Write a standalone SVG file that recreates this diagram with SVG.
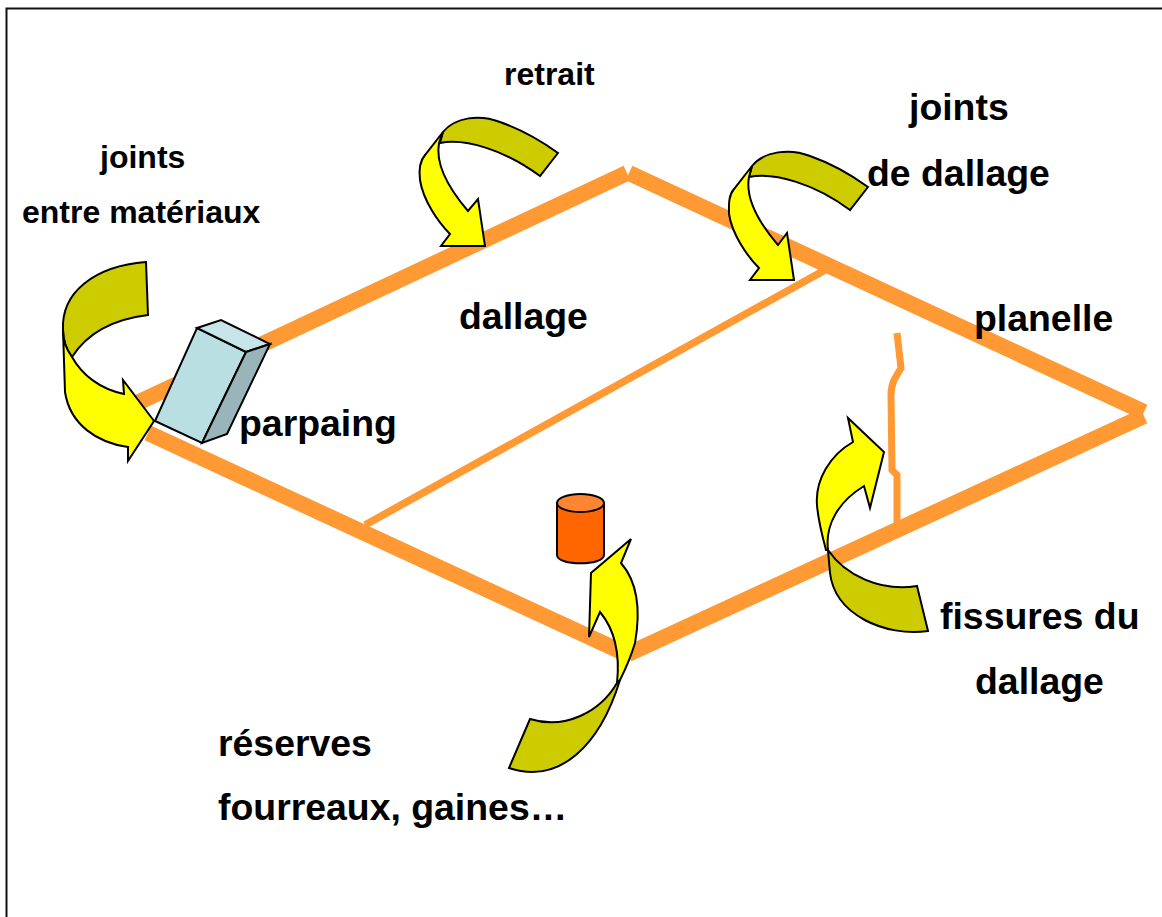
<svg xmlns="http://www.w3.org/2000/svg" width="1162" height="917" viewBox="0 0 1162 917">
<style>
text{font-family:"Liberation Sans",Arial,sans-serif;font-weight:bold;fill:#000}
.s{font-size:32px}.l{font-size:37.4px}
.o{fill:none;stroke:#FF9933}
.b{stroke:#000;stroke-width:2;stroke-linejoin:miter}
.y{fill:#FFFF00}.k{fill:#CCCC00}
</style>
<rect width="1162" height="917" fill="#fff"/>
<path d="M6.500 917V8.500H1162" fill="none" stroke="#111" stroke-width="2"/>
<g id="connectors">
<g id="dalle-outline" class="o" stroke-width="16">
<path d="M135 404L627 173"/><path d="M629 173L1144 412"/><path d="M1144 416L628 654"/><path d="M622 652L148 433"/>
</g>
<path id="joint-line" class="o" stroke-width="7.500" d="M365 525L825 270"/>
<path id="crack" class="o" stroke-width="7" fill="none" d="M897 333L901 368L894 380Q891 387 891 395L892 470L897 475L897 525"/>
</g>
<g id="parpaing-block" class="b">
<path fill="#B9DFE3" d="M197 328L246 352L202 443L155 421Z"/>
<path fill="#C7E5E9" d="M197 328L221 320L270 344L246 352Z"/>
<path fill="#99B5B9" d="M246 352L270 344L227 434L202 443Z"/>
</g>
<g id="reserve-cylinder" class="b">
<path fill="#FF6600" d="M557 503V555C557 566 604 566 604 555V503Z"/>
<ellipse cx="580.500" cy="503" rx="23.500" ry="9" fill="#FF8533"/>
</g>
<g id="arrow-joints-materiaux" class="b">
<path class="k" d="M146 262L148 315C115 319 88 332 72 357C66 349 63 340 63 330C61 292 95 266 146 262Z"/>
<path class="y" d="M63 330L65 392C70 425 98 443 128 447L128 461L154 421L123 380L124 394C100 389 82 375 72 357C66 349 63 340 63 330Z"/>
</g>
<g id="arrow-retrait" class="b">
<path class="k" d="M558 153L540 176C505 150 465 138 440 143L443 132C455 117 480 114 500 122C520 129 540 140 558 153Z"/>
<path class="y" d="M443 132L425 155C419 162 419 172 420 180C423 200 438 222 450 234L441 246L485 246L478 199L468 211C450 190 435 165 439 143Z"/>
</g>
<g id="arrow-joints-dallage" class="b">
<path class="k" d="M868 187L850 210C815 184 775 172 749 177L752 166C764 151 790 148 810 156C830 163 850 174 868 187Z"/>
<path class="y" d="M752 166L734 189C728 196 729 206 729 214C732 234 747 256 759 268L750 280L794 280L787 233L778 245C760 224 745 199 749 177Z"/>
</g>
<g id="arrow-reserves" class="b">
<path class="k" d="M530 719C565 730 600 712 617 683L620 680C600 745 560 785 509 768Z"/>
<path class="y" d="M617 683C620 655 615 630 600 612L589 637L591 573L631 539L621 563C640 585 640 615 635 643C630 660 625 670 620 680L617 683Z"/>
</g>
<g id="arrow-fissures" class="b">
<path class="k" d="M917 586L928 631C885 637 835 615 830 573L828 550C845 575 880 592 917 586Z"/>
<path class="y" d="M828 550C825 525 838 502 864 486L870 508L884 452L848 418L853 442C830 455 815 480 817 505C818 520 822 535 826 550Z"/>
</g>
<g id="labels">
<text class="s" x="504" y="85">retrait</text>
<text class="s" x="100" y="168">joints</text>
<text class="s" x="22" y="223">entre matériaux</text>
<text class="l" x="909" y="120">joints</text>
<text class="l" x="867" y="186">de dallage</text>
<text class="l" x="459" y="329">dallage</text>
<text class="l" x="974" y="331">planelle</text>
<text class="l" x="239" y="436">parpaing</text>
<text class="l" x="940" y="629">fissures du</text>
<text class="l" x="975" y="694">dallage</text>
<text class="l" x="218" y="756">réserves</text>
<text class="l" x="218" y="820">fourreaux, gaines…</text>
</g>
</svg>
